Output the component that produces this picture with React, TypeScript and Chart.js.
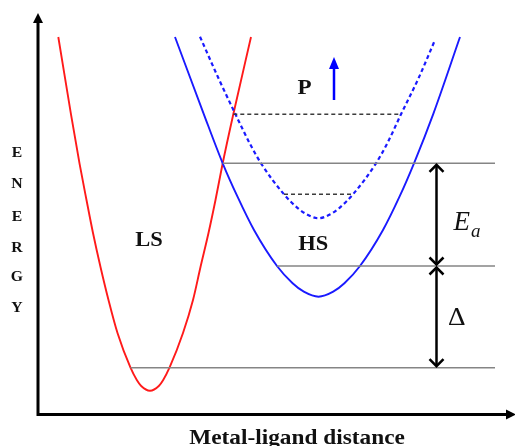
import { useEffect, useRef } from 'react';
import { Chart, registerables } from 'chart.js';

Chart.register(...registerables);

// Potential wells: metal–ligand distance (x) against energy (y)
const lsWell = [
  { x: 58.3, y: 376 }, { x: 71, y: 298.7 }, { x: 79.5, y: 249.7 }, { x: 86.5, y: 213 },
  { x: 93, y: 180 }, { x: 100.5, y: 146 }, { x: 108.5, y: 113 }, { x: 117.5, y: 80 },
  { x: 130.5, y: 45.3 }, { x: 136.8, y: 33 }, { x: 141.2, y: 27 }, { x: 150, y: 22.3 },
  { x: 158.8, y: 27 }, { x: 163.2, y: 33 }, { x: 169.5, y: 45.3 }, { x: 183, y: 80 },
  { x: 193, y: 113 }, { x: 200.5, y: 146 }, { x: 208.5, y: 180 }, { x: 215.5, y: 213 },
  { x: 222.7, y: 249.7 }, { x: 233.3, y: 298.7 }, { x: 251, y: 376 },
];

const hsWell = [
  { x: 175, y: 376 }, { x: 203.5, y: 299.7 }, { x: 222.7, y: 249.7 }, { x: 237.5, y: 216.3 },
  { x: 254, y: 183 }, { x: 277, y: 147 }, { x: 292.6, y: 129.7 }, { x: 303.8, y: 121.3 },
  { x: 318.5, y: 116.3 }, { x: 333.2, y: 121.3 }, { x: 344.4, y: 129.7 }, { x: 360, y: 147 },
  { x: 383, y: 183 }, { x: 399.5, y: 216.3 }, { x: 414, y: 249.7 }, { x: 433.5, y: 299.7 },
  { x: 460, y: 376 },
];

// High-spin well shifted up under pressure
const hsPressureWell = [
  { x: 200, y: 376.3 }, { x: 218.5, y: 334.7 }, { x: 235.5, y: 298.7 }, { x: 249.7, y: 269.7 },
  { x: 261, y: 249.7 }, { x: 284, y: 218.7 }, { x: 298, y: 204.7 }, { x: 306.7, y: 198.7 },
  { x: 318.5, y: 194.7 }, { x: 330.3, y: 198.7 }, { x: 339, y: 204.7 }, { x: 353, y: 218.7 },
  { x: 376, y: 249.7 }, { x: 387.3, y: 269.7 }, { x: 401, y: 298.7 }, { x: 418.5, y: 334.7 },
  { x: 435, y: 373 },
];

// Reference energy levels: crossing point, HS minimum, LS minimum
const levelEnergies = [249.7, 147, 45.3];
const levelStarts = [222.7, 277, 130.5];
const levelEnd = 495;

// Levels of the pressure-shifted well
const shiftedEnergies = [298.7, 218.7];
const shiftedStarts = [233.3, 284];
const shiftedEnds = [401, 353];

const axisLabel = ['E', 'N', 'E', 'R', 'G', 'Y'];
const xTitle = 'Metal-ligand distance';

const SERIF = '"Liberation Serif", "Times New Roman", serif';

const drawingPlugin = {
  id: 'diagramMarks',
  afterDatasetsDraw(chart: any) {
    const { ctx, scales } = chart;
    const X = (v: number) => scales.x.getPixelForValue(v);
    const Y = (v: number) => scales.y.getPixelForValue(v);
    ctx.save();

    // axis arrowheads
    ctx.fillStyle = '#000';
    ctx.beginPath();
    ctx.moveTo(X(38), Y(400));
    ctx.lineTo(X(38) - 5, Y(390));
    ctx.lineTo(X(38) + 5, Y(390));
    ctx.closePath();
    ctx.fill();
    ctx.beginPath();
    ctx.moveTo(X(516), Y(-1.5));
    ctx.lineTo(X(506), Y(-1.5) - 5);
    ctx.lineTo(X(506), Y(-1.5) + 5);
    ctx.closePath();
    ctx.fill();

    // double-headed arrows for Ea and Delta
    const ax = X(436.5);
    const dbl = (eTop: number, eBot: number) => {
      const t = Y(eTop) + 1.5;
      const b = Y(eBot) - 1.5;
      ctx.strokeStyle = '#000';
      ctx.lineWidth = 2.5;
      ctx.lineCap = 'butt';
      ctx.lineJoin = 'miter';
      ctx.beginPath();
      ctx.moveTo(ax, t + 1);
      ctx.lineTo(ax, b - 1);
      ctx.stroke();
      ctx.beginPath();
      ctx.moveTo(ax - 7, t + 7);
      ctx.lineTo(ax, t);
      ctx.lineTo(ax + 7, t + 7);
      ctx.moveTo(ax - 7, b - 7);
      ctx.lineTo(ax, b);
      ctx.lineTo(ax + 7, b - 7);
      ctx.stroke();
    };
    dbl(levelEnergies[0], levelEnergies[1]);
    dbl(levelEnergies[1], levelEnergies[2]);

    // pressure arrow
    const px = X(334);
    ctx.strokeStyle = '#0000ff';
    ctx.fillStyle = '#0000ff';
    ctx.lineWidth = 2.5;
    ctx.beginPath();
    ctx.moveTo(px, Y(313));
    ctx.lineTo(px, Y(345));
    ctx.stroke();
    ctx.beginPath();
    ctx.moveTo(px, Y(356));
    ctx.lineTo(px - 5, Y(344));
    ctx.lineTo(px + 5, Y(344));
    ctx.closePath();
    ctx.fill();

    // text
    const stretched = (text: string, x: number, y: number, sx: number) => {
      ctx.save();
      ctx.translate(x, y);
      ctx.scale(sx, 1);
      ctx.fillText(text, 0, 0);
      ctx.restore();
    };

    ctx.fillStyle = '#111';
    ctx.textAlign = 'center';
    ctx.textBaseline = 'middle';
    ctx.font = `bold 15px ${SERIF}`;
    const letterE = [259.7, 229.3, 196.3, 164.7, 135.7, 105];
    axisLabel.forEach((ch, i) => stretched(ch, X(17), Y(letterE[i]), 1.05));

    ctx.font = `bold 21px ${SERIF}`;
    stretched('LS', X(149), Y(172.3), 1.07);
    stretched('HS', X(313.3), Y(168), 1.07);
    stretched('P', X(304.5), Y(324.7), 1.1);

    ctx.textAlign = 'left';
    ctx.textBaseline = 'alphabetic';
    ctx.font = `italic 27px ${SERIF}`;
    ctx.fillText('E', X(453.5), Y(183));
    ctx.font = `italic 19px ${SERIF}`;
    ctx.fillText('a', X(471), Y(176));

    ctx.textAlign = 'center';
    ctx.font = `26px ${SERIF}`;
    stretched('\u0394', X(456.7), Y(88), 1.05);

    ctx.font = `bold 22px ${SERIF}`;
    stretched(xTitle, X(297), Y(-31), 1.06);

    ctx.restore();
  },
};

export default function App() {
  const ref = useRef<HTMLCanvasElement | null>(null);

  useEffect(() => {
    if (!ref.current) return;
    const line = (pts: { x: number; y: number }[], color: string, width: number, dash: number[] = []) => ({
      data: pts,
      showLine: true,
      borderColor: color,
      borderWidth: width,
      borderDash: dash,
      pointRadius: 0,
      fill: false,
    });

    const datasets: any[] = [];
    levelEnergies.forEach((e, i) =>
      datasets.push(line([{ x: levelStarts[i], y: e }, { x: levelEnd, y: e }], '#858585', 1.5)),
    );
    shiftedEnergies.forEach((e, i) =>
      datasets.push(line([{ x: shiftedStarts[i], y: e }, { x: shiftedEnds[i], y: e }], '#3c3c3c', 1.5, [4, 3])),
    );
    datasets.push({ ...line(hsPressureWell, '#1a1aff', 2.2, [4, 3]), cubicInterpolationMode: 'monotone' });
    datasets.push({ ...line(hsWell, '#1a1aff', 1.9), cubicInterpolationMode: 'monotone' });
    datasets.push({ ...line(lsWell, '#ff1a1a', 1.9), cubicInterpolationMode: 'monotone' });
    // axes
    datasets.push(line([{ x: 38, y: 392 }, { x: 38, y: -1.5 }, { x: 508, y: -1.5 }], '#000', 3));

    const chart = new Chart(ref.current, {
      type: 'scatter',
      data: { datasets },
      options: {
        animation: false,
        responsive: true,
        maintainAspectRatio: false,
        events: [],
        layout: { padding: 0 },
        scales: {
          x: { type: 'linear', min: 0, max: 515, display: false },
          y: { type: 'linear', min: -33, max: 413, display: false },
        },
        plugins: { legend: { display: false }, tooltip: { enabled: false } },
      },
      plugins: [drawingPlugin],
    });
    return () => chart.destroy();
  }, []);

  return (
    <div style={{ position: 'absolute', left: 0, top: 0, width: 515, height: 446, background: '#fff' }}>
      <canvas ref={ref} />
    </div>
  );
}
